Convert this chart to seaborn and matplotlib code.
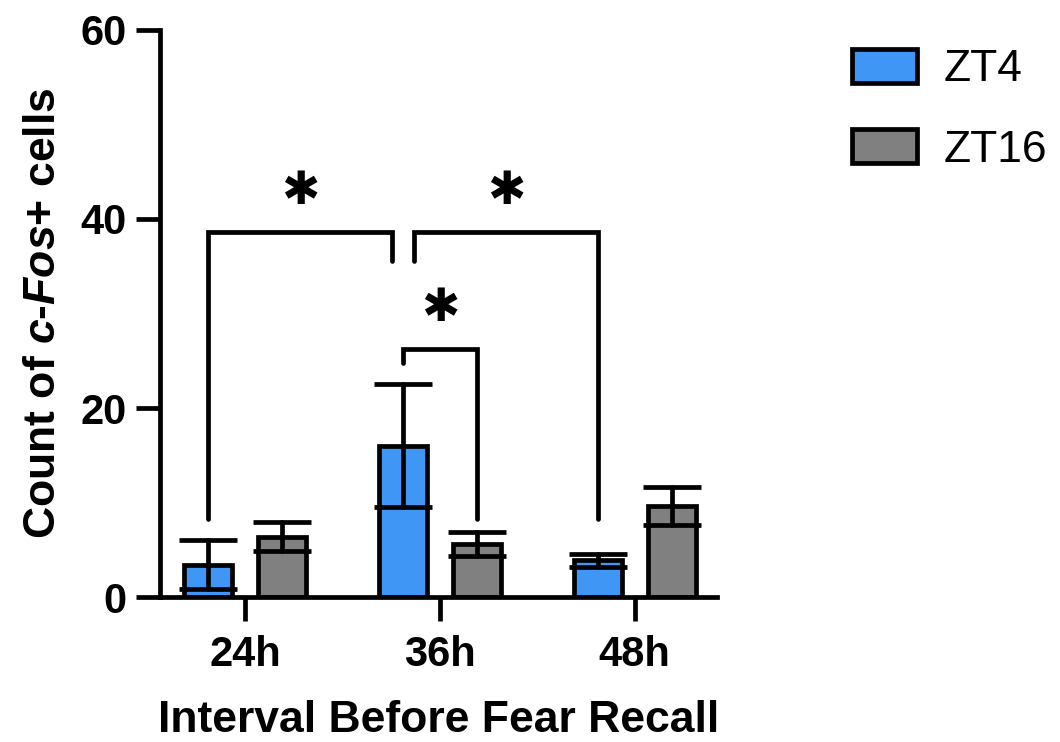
import pandas as pd
import matplotlib
matplotlib.use("Agg")
import matplotlib.pyplot as plt
import seaborn as sns

# Data
intervals = ['24h', '36h', '48h']
groups = ['ZT4', 'ZT16']
zt4_mean = [3.4, 16.0, 3.9]
zt4_sem = [2.6, 6.5, 0.7]
zt16_mean = [6.4, 5.6, 9.6]
zt16_sem = [1.5, 1.3, 2.0]

# significance brackets: (left group, left interval, right group, right interval)
bracket_pairs = [('ZT4', '24h', 'ZT4', '36h'),
                 ('ZT4', '36h', 'ZT4', '48h'),
                 ('ZT4', '36h', 'ZT16', '36h')]
bracket_tops = [38.6, 38.6, 26.2]
bracket_left_ends = [8.3, 35.6, 24.8]
bracket_right_ends = [35.6, 8.3, 8.3]
bracket_labels = ['✱', '✱', '✱']

colors = {'ZT4': '#3F96F5', 'ZT16': '#808080'}

df = pd.DataFrame({
    'interval': intervals * 2,
    'group': ['ZT4'] * 3 + ['ZT16'] * 3,
    'count': zt4_mean + zt16_mean,
    'sem': zt4_sem + zt16_sem,
})

sns.set_style('ticks')
plt.rcParams['font.family'] = ['Liberation Sans', 'DejaVu Sans']
plt.rcParams['mathtext.fontset'] = 'custom'
plt.rcParams['mathtext.it'] = 'Liberation Sans:italic:bold'
plt.rcParams['mathtext.rm'] = 'Liberation Sans:bold'
for k in ['text.color', 'axes.labelcolor', 'xtick.color', 'ytick.color', 'axes.edgecolor']:
    plt.rcParams[k] = 'black'

LW = 3.4

fig = plt.figure(figsize=(10.6, 7.42), dpi=100)
ax = fig.add_axes([0.151, 0.1954, 0.525, 0.7642])

sns.barplot(data=df, x='interval', y='count', hue='group', order=intervals,
            hue_order=groups, palette=colors, saturation=1, errorbar=None, width=0.76,
            gap=0.355, edgecolor='black', linewidth=LW, ax=ax, zorder=2)

# error bars at the bar centres
centers = {}
for grp, cont in zip(groups, ax.containers):
    sub = df[df['group'] == grp].set_index('interval').loc[intervals]
    xs = [p.get_x() + p.get_width() / 2 for p in cont.patches]
    for iv, x in zip(intervals, xs):
        centers[(grp, iv)] = x
    eb = ax.errorbar(xs, sub['count'], yerr=sub['sem'], fmt='none', ecolor='black',
                     elinewidth=LW, capsize=21, capthick=LW, zorder=3)
    for ln in eb.lines[1]:
        ln.set_solid_capstyle('round')
    for lc in eb.lines[2]:
        lc.set_capstyle('round')

# brackets
off = 0.057
for (g1, i1, g2, i2), top, lb, rb, lab in zip(bracket_pairs, bracket_tops,
                                               bracket_left_ends, bracket_right_ends,
                                               bracket_labels):
    x1 = centers[(g1, i1)]
    x2 = centers[(g2, i2)]
    if g1 == g2 and i1 == '36h':
        x1 += off
    if g1 == g2 and i2 == '36h':
        x2 -= off
    ax.plot([x1, x1, x2, x2], [lb, top, top, rb], color='black', lw=LW,
            solid_capstyle='round', solid_joinstyle='miter', zorder=4, clip_on=False)
    ax.text((x1 + x2) / 2, top + 4.3, lab, ha='center', va='center',
            fontsize=33, family='DejaVu Sans', color='black')

ax.set_xlim(-0.436, 2.42)
ax.set_ylim(0, 60)
ax.set_yticks([0, 20, 40, 60])
sns.despine(ax=ax)
for s in ['left', 'bottom']:
    ax.spines[s].set_linewidth(LW)
ax.tick_params(axis='both', length=17, width=LW, labelsize=30, color='black')
ax.tick_params(axis='y', pad=7)
ax.tick_params(axis='x', pad=10)
for t in ax.get_xticklabels() + ax.get_yticklabels():
    t.set_fontweight('bold')

ax.set_xlabel('Interval Before Fear Recall', fontsize=32, fontweight='bold', labelpad=18)
ax.set_ylabel(r'Count of $\mathit{c}$-$\mathit{Fos}$+ cells', fontsize=32,
              fontweight='bold', labelpad=12)

handles, labels = ax.get_legend_handles_labels()
ax.get_legend().remove()
leg = fig.legend(handles, labels, loc='upper left', bbox_to_anchor=(0.804, 0.934),
                 frameon=False, handlelength=1.45, handleheight=0.8,
                 prop={'family': 'Liberation Sans', 'style': 'normal',
                       'weight': 'normal', 'size': 32},
                 handletextpad=0.6, labelspacing=0.87, borderpad=0, borderaxespad=0)
for h in leg.legend_handles:
    h.set_edgecolor('black')
    h.set_linewidth(LW)

fig.savefig('out.png', dpi=100)
